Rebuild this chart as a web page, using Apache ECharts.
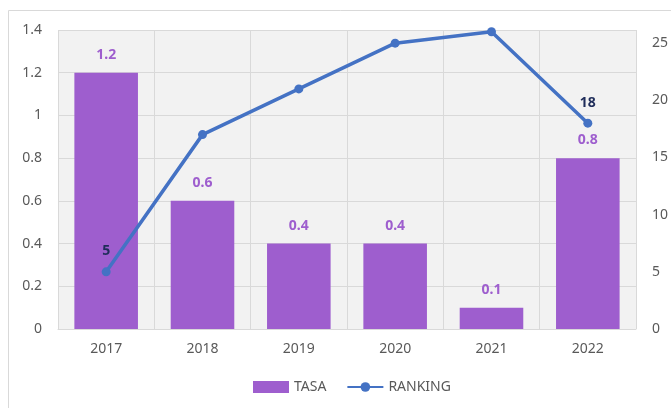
<!DOCTYPE html>
<html><head><meta charset="utf-8">
<script src="https://cdn.jsdelivr.net/npm/echarts@6/dist/echarts.min.js"></script>
<style>html,body{margin:0;padding:0;background:#fff}#c{width:671px;height:408px}</style>
</head><body><div id="c"></div>
<script>
var categories = ['2017','2018','2019','2020','2021','2022'];
var tasa = [1.2, 0.6, 0.4, 0.4, 0.1, 0.8];
var ranking = [5, 17, 21, 25, 26, 18];
var rankingLabelShown = [true, false, false, false, false, true];
var leftTicks = ['0','0.2','0.4','0.6','0.8','1','1.2','1.4'];

var chart = echarts.init(document.getElementById('c'));
var font = 'Noto Sans';
chart.setOption({
  animation: false,
  textStyle: {fontFamily: font},
  graphic: [{type:'rect', shape:{x:8.5,y:10.5,width:700,height:420}, style:{fill:'none',stroke:'#d9d9d9',lineWidth:1}, z:-10}],
  grid: {left: 58, right: 31, top: 30, bottom: 79, backgroundColor: '#f2f2f2', show: true, borderWidth: 0},
  legend: {
    bottom: 9, left: 248, itemGap: 20, itemWidth: 36, itemHeight: 12,
    textStyle: {color: '#595959', fontSize: 14, fontFamily: font},
    data: [{name:'TASA', icon:'rect'}, {name:'RANKING'}]
  },
  xAxis: {
    type: 'category', data: categories,
    axisLine: {lineStyle: {color: '#d9d9d9'}},
    axisTick: {show: false},
    axisLabel: {color: '#595959', fontSize: 14, margin: 13},
    splitLine: {show: true, lineStyle: {color: '#d9d9d9'}}
  },
  yAxis: [{
    type: 'value', min: 0, max: 1.4, interval: 0.2,
    axisLabel: {color: '#595959', fontSize: 14, margin: 16, formatter: function(v, i){ return leftTicks[Math.round(v/0.2)]; }},
    splitLine: {lineStyle: {color: '#d9d9d9'}},
    axisLine: {show: false}, axisTick: {show: false}
  },{
    type: 'value', min: 0, max: 26.15, interval: 5,
    axisLabel: {color: '#595959', fontSize: 14, margin: 16, showMaxLabel: false},
    splitLine: {show: false}, axisLine: {show: false}, axisTick: {show: false}
  }],
  series: [{
    name: 'TASA', type: 'bar', data: tasa, barWidth: '66%',
    itemStyle: {color: '#9e5ece'},
    label: {show: true, position: 'top', distance: 11, color: '#9e5ece', fontWeight: 'bold', fontSize: 14}
  },{
    name: 'RANKING', type: 'line', yAxisIndex: 1,
    data: ranking.map(function(v,i){ return {value: v, label: {show: rankingLabelShown[i]}}; }),
    symbol: 'circle', symbolSize: 9,
    lineStyle: {color: '#4472c4', width: 3.5},
    itemStyle: {color: '#4472c4'},
    label: {position: 'top', distance: 9, color: '#1f2d5a', fontWeight: 'bold', fontSize: 14}
  }]
});
</script></body></html>
